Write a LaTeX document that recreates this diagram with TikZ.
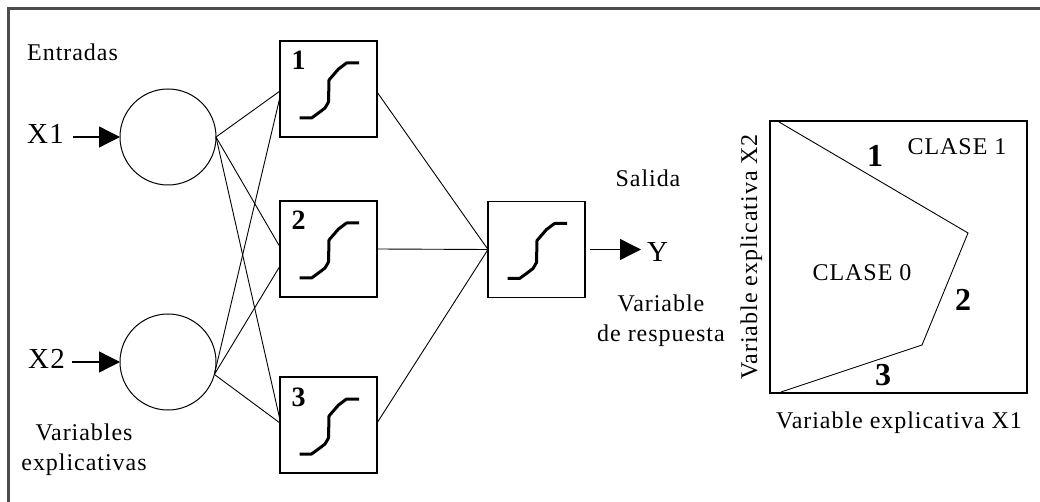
\documentclass[tikz,border=0pt]{standalone}
\usepackage{fontspec}
\setmainfont{Liberation Serif}
\newfontfamily\lbl[LetterSpace=4]{Liberation Serif}
\usetikzlibrary{arrows.meta}

\begin{document}
\begin{tikzpicture}[x=1pt,y=-1pt,
  frame/.style={line width=2.6pt, draw=black!70},
  wire/.style={line width=0.9pt},
  unit/.style={draw, line width=1.2pt, minimum width=97pt, minimum height=96pt, inner sep=0pt, outer sep=0pt},
  inp/.style={draw, circle, line width=1pt, minimum size=96pt, inner sep=0pt, outer sep=0pt},
  lab/.style={inner sep=0pt, font=\lbl\fontsize{24}{30}\selectfont},
  var/.style={inner sep=0pt, font=\lbl\fontsize{29}{34}\selectfont},
  num/.style={inner sep=0pt, font=\lbl\bfseries\fontsize{28}{30}\selectfont},
  bignum/.style={inner sep=0pt, font=\lbl\bfseries\fontsize{32}{34}\selectfont},
  sig/.style={line width=3pt, line join=round},
  feed/.style={line width=1.3pt, -{Triangle[length=21pt,width=21pt]}},
  sigmoid/.pic={\draw[sig] (-29,29) -- (-17,29) -- (-10,24) -- (-3.5,19) -- (0,13)
                 -- (0.5,-9) -- (10,-20) -- (18,-26) -- (30.5,-26);}
]
\useasboundingbox (0,0) rectangle (1040,502);

% outer frame (top and left edges)
\draw[frame] (8.5,502) -- (8.5,8.5) -- (1040,8.5);

% input layer
\node[lab, anchor=base west] (entradas) at (27,61) {Entradas};
\node[inp] (c1) at (168,137) {};
\node[inp] (c2) at (168,362) {};
\node[var, anchor=base west] (x1) at (27,144) {X1};
\node[var, anchor=base west] (x2) at (28,368) {X2};
\draw[feed] ([xshift=9pt]x1.east |- c1.west) -- (c1.west);
\draw[feed] ([xshift=7pt]x2.east |- c2.west) -- (c2.west);
\node[lab, align=center] (varexp) at (84,450) {Variables\\explicativas};

% hidden layer
\node[unit] (h1) at (328.5,89) {};
\node[unit] (h2) at (328.5,249) {};
\node[unit] (h3) at (328.5,425) {};
\foreach \h/\k in {h1/1,h2/2,h3/3}{
  \pic at (\h.center) {sigmoid};
  \node[num, anchor=base] (\h num) at ([xshift=18.5pt,yshift=-29pt]\h.north west) {\k};
}

% output unit
\node[unit] (out) at (536.5,249.5) {};
\pic at (out.center) {sigmoid};
\node[lab, anchor=base] (salida) at (648,187) {Salida};
\node[var, anchor=base west] (y) at (647,262) {Y};
\draw[feed] ([xshift=5pt]out.east) -- ([xshift=-6pt]y.west |- out.east);
\node[lab, align=center] (resp) at (661,321) {Variable\\de respuesta};

% input -> hidden connections
\draw[wire] (c1.east) -- ([yshift=-2pt]h1.west);
\draw[wire] (c1.east) -- ([yshift=2pt]h2.west);
\draw[wire] (c1.east) -- ([yshift=5pt]h3.west);
\draw[wire] (c2.-15) -- ([yshift=-8pt]h1.west);
\draw[wire] (c2.-15) -- ([yshift=-17pt]h2.west);
\draw[wire] (c2.-15) -- ([yshift=2pt]h3.west);

% hidden -> output connections
\draw[wire] ([yshift=-3pt]h1.east) -- (out.west);
\draw[wire] (h2.east) -- (out.west);
\draw[wire] ([yshift=2pt]h3.east) -- (out.west);

% decision regions in the plane of the two inputs
\node[draw, line width=1.2pt, minimum width=257pt, minimum height=272pt, inner sep=0pt, outer sep=0pt] (plot) at (898.5,257) {};
\coordinate (p0) at (779,122);
\coordinate (p1) at (968,233);
\coordinate (p2) at (922,345);
\coordinate (p3) at (781,392);
\draw[wire] (p0) -- (p1) -- (p2) -- (p3);
\node[bignum, anchor=base] (b1) at (875,167) {1};
\node[bignum, anchor=base] (b2) at (963,310) {2};
\node[bignum, anchor=base] (b3) at (883,385) {3};
\node[lab, anchor=base] (clase1) at (957,155) {CLASE 1};
\node[lab, anchor=base] (clase0) at (862,280) {CLASE 0};
\node[lab, anchor=base] (axx) at (899,428) {Variable explicativa X1};
\node[lab, anchor=base, rotate=90] (axy) at (757,257) {Variable explicativa X2};
\end{tikzpicture}
\end{document}
